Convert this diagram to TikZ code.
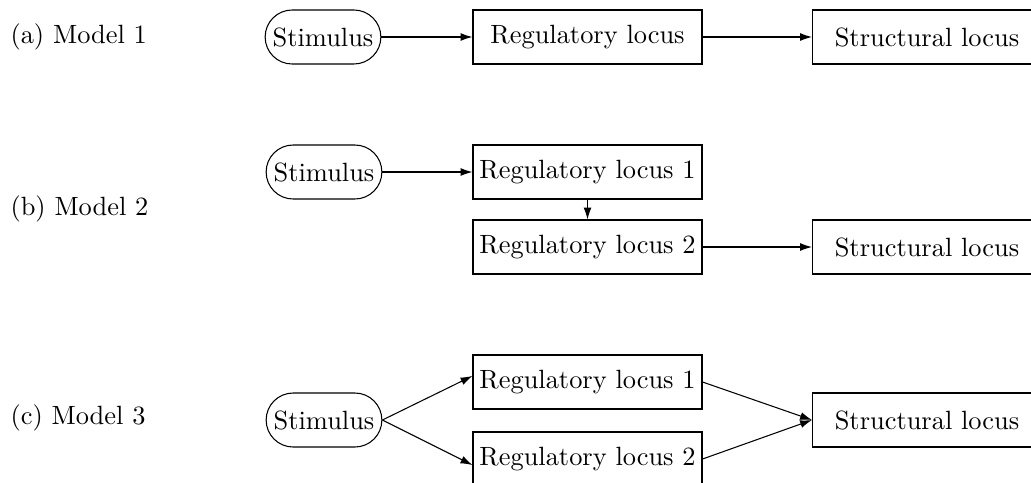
\documentclass[tikz,border=0pt]{standalone}
\usetikzlibrary{shapes.misc,arrows.meta}
\begin{document}
\begin{tikzpicture}[x=0.3788pt,y=-0.3788pt,
  stim/.style={draw,rounded rectangle,minimum width=121*0.3788pt,minimum height=54*0.3788pt,inner sep=1pt},
  locus/.style={draw,rectangle,minimum width=229*0.3788pt,minimum height=54*0.3788pt,inner sep=1pt},
  lbl/.style={anchor=west,inner sep=0pt},
  arr/.style={-{Latex[length=4.5pt,width=3pt]},line width=0.4pt}]
\useasboundingbox (0,0) rectangle (1031,482);
\clip (0,0) rectangle (1031,482);
% row a
\node[lbl] (la) at (10,37) {(a) Model 1};
\node[stim] (sa) at (323,37) {Stimulus};
\node[locus] (ra) at (587.5,37) {Regulatory locus};
\node[locus] (ta) at (927,37) {Structural locus};
\draw[arr] (sa.east) -- (ra.west);
\draw[arr] (ra.east) -- (ta.west);
% row b
\node[lbl] (lb) at (10,209) {(b) Model 2};
\node[stim] (sb) at (324,172) {Stimulus};
\node[locus] (rb1) at (587.5,172) {Regulatory locus 1};
\node[locus] (rb2) at (587.5,247) {Regulatory locus 2};
\node[locus] (tb) at (927,247) {Structural locus};
\draw[arr] (sb.east) -- (rb1.west);
\draw[arr] (rb1.south) -- (rb2.north);
\draw[arr] (rb2.east) -- (tb.west);
% row c
\node[lbl] (lc) at (10,418) {(c) Model 3};
\node[stim] (sc) at (324,420) {Stimulus};
\node[locus] (rc1) at (587.5,382) {Regulatory locus 1};
\node[locus] (rc2) at (587.5,459) {Regulatory locus 2};
\node[locus] (tc) at (927,420) {Structural locus};
\coordinate (rc1in) at ([yshift=2.3pt]rc1.west);
\coordinate (rc2in) at ([yshift=-2.3pt]rc2.west);
\draw[arr] (sc.east) -- (rc1in);
\draw[arr] (sc.east) -- (rc2in);
\draw[arr] (rc1.east) -- (tc.west);
\draw[arr] (rc2.east) -- (tc.west);
\end{tikzpicture}
\end{document}
